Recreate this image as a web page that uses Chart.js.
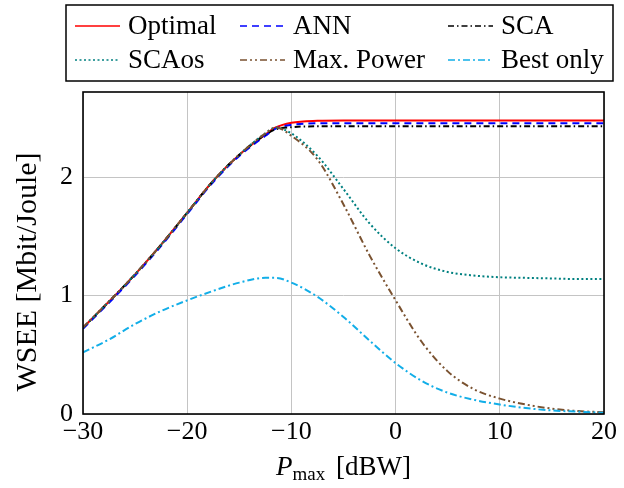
<!DOCTYPE html>
<html>
<head>
<meta charset="utf-8">
<script src="https://cdn.jsdelivr.net/npm/chart.js@4/dist/chart.umd.min.js"></script>
<style>
  html, body { margin: 0; padding: 0; background: #fff; }
</style>
</head>
<body>
<canvas id="wsee" width="624" height="488"></canvas>
<script>
// P_max in dBW
const pmax = [-30, -27.5, -25, -22.5, -20, -17.5, -15, -12.5, -11.5, -10, -7.5, -5, -2.5, 0, 2.5, 5, 7.5, 10, 12.5, 15, 17.5, 20];

// WSEE [Mbit/Joule] for each method
const optimal  = [0.73, 0.95, 1.18, 1.43, 1.70, 1.97, 2.19, 2.36, 2.42, 2.46, 2.477, 2.48, 2.48, 2.48, 2.48, 2.48, 2.48, 2.48, 2.48, 2.48, 2.48, 2.48];
const ann      = [0.72, 0.94, 1.17, 1.42, 1.69, 1.96, 2.18, 2.35, 2.41, 2.443, 2.455, 2.455, 2.455, 2.455, 2.455, 2.455, 2.455, 2.455, 2.455, 2.455, 2.455, 2.455];
const sca      = [0.73, 0.95, 1.18, 1.43, 1.70, 1.97, 2.19, 2.36, 2.405, 2.423, 2.43, 2.43, 2.43, 2.43, 2.43, 2.43, 2.43, 2.43, 2.43, 2.43, 2.43, 2.43];
const scaos    = [0.73, 0.95, 1.18, 1.43, 1.70, 1.97, 2.19, 2.37, 2.42, 2.37, 2.18, 1.90, 1.61, 1.40, 1.27, 1.20, 1.17, 1.155, 1.15, 1.145, 1.14, 1.14];
const maxPower = [0.73, 0.95, 1.18, 1.43, 1.70, 1.97, 2.19, 2.37, 2.42, 2.35, 2.15, 1.77, 1.34, 0.96, 0.61, 0.36, 0.21, 0.13, 0.08, 0.045, 0.025, 0.015];
const bestOnly = [0.52, 0.63, 0.76, 0.87, 0.96, 1.04, 1.11, 1.15, 1.15, 1.11, 0.99, 0.82, 0.62, 0.43, 0.28, 0.18, 0.12, 0.08, 0.05, 0.03, 0.02, 0.01];

const xTicks = [-30, -20, -10, 0, 10, 20];
const yTicks = [0, 1, 2];

const SERIF = '"Liberation Serif", "Times New Roman", serif';

function pts(ys) {
  return pmax.map((x, i) => ({ x: x, y: ys[i] }));
}

function series(label, ys, color, dash, order) {
  return {
    label: label,
    data: pts(ys),
    borderColor: color,
    backgroundColor: color,
    borderDash: dash,
    borderWidth: 2,
    pointRadius: 0,
    fill: false,
    cubicInterpolationMode: 'monotone',
    order: order
  };
}

function minus(v) {
  return v < 0 ? '\u2212' + Math.abs(v) : String(v);
}

// frame, legend box and axis titles
const decorations = {
  id: 'decorations',
  afterDraw(chart) {
    const ctx = chart.ctx;
    const a = chart.chartArea;
    ctx.save();

    ctx.strokeStyle = '#000';
    ctx.lineWidth = 1.6;
    ctx.setLineDash([]);
    ctx.strokeRect(a.left, a.top, a.right - a.left, a.bottom - a.top);

    // legend
    ctx.lineWidth = 1.5;
    ctx.strokeRect(66, 5, 547, 76);
    const cols = [75, 240, 448];
    const rows = [26, 60];
    ctx.font = '27px ' + SERIF;
    ctx.textBaseline = 'middle';
    ctx.fillStyle = '#000';
    chart.data.datasets.forEach((ds, i) => {
      const x = cols[i % 3];
      const y = rows[Math.floor(i / 3)];
      ctx.strokeStyle = ds.borderColor;
      ctx.lineWidth = 1.6;
      ctx.setLineDash(ds.borderDash);
      ctx.beginPath();
      ctx.moveTo(x, y);
      ctx.lineTo(x + 45, y);
      ctx.stroke();
      ctx.setLineDash([]);
      ctx.fillText(ds.label, x + 53, y + 1);
    });

    // x title: P_max [dBW]
    ctx.textBaseline = 'alphabetic';
    ctx.textAlign = 'left';
    const big = '27px ' + SERIF;
    const italic = 'italic 27px ' + SERIF;
    const small = '19px ' + SERIF;
    ctx.font = italic; const wP = ctx.measureText('P').width;
    ctx.font = small; const wSub = ctx.measureText('max').width;
    ctx.font = big; const wRest = ctx.measureText(' [dBW]').width;
    const x0 = (a.left + a.right) / 2 - (wP + wSub + wRest + 4) / 2;
    const base = 475;
    ctx.font = italic; ctx.fillText('P', x0, base);
    ctx.font = small; ctx.fillText('max', x0 + wP, base + 5);
    ctx.font = big; ctx.fillText(' [dBW]', x0 + wP + wSub + 4, base);

    // y title
    ctx.translate(28, 272);
    ctx.rotate(-Math.PI / 2);
    ctx.textAlign = 'center';
    ctx.textBaseline = 'middle';
    ctx.font = '30px ' + SERIF;
    ctx.fillText('WSEE [Mbit/Joule]', 0, 0);

    ctx.restore();
  }
};

new Chart(document.getElementById('wsee'), {
  type: 'line',
  data: {
    datasets: [
      series('Optimal', optimal, '#ff0000', [], 6),
      series('ANN', ann, '#0000ff', [7, 5], 5),
      series('SCA', sca, '#000000', [6, 3, 1.5, 3], 4),
      series('SCAos', scaos, '#008080', [2, 2.5], 3),
      series('Max. Power', maxPower, '#7a5230', [7, 3, 2, 3, 2, 3], 2),
      series('Best only', bestOnly, '#12aee8', [7, 3, 2, 3], 1)
    ]
  },
  options: {
    responsive: false,
    animation: false,
    layout: { padding: { top: 92, right: 20, bottom: 0, left: 0 } },
    plugins: {
      legend: { display: false },
      tooltip: { enabled: false }
    },
    scales: {
      x: {
        type: 'linear',
        min: -30,
        max: 20,
        afterBuildTicks: s => { s.ticks = xTicks.map(v => ({ value: v })); },
        afterFit: s => { s.height = 74; },
        ticks: {
          callback: v => minus(v),
          color: '#000',
          font: { family: SERIF, size: 26 },
          padding: 3,
          maxRotation: 0
        },
        grid: { color: '#c4c4c4', lineWidth: 1, drawTicks: false },
        border: { display: false }
      },
      y: {
        min: 0,
        max: 2.72,
        afterBuildTicks: s => { s.ticks = yTicks.map(v => ({ value: v })); },
        afterFit: s => { s.width = 83; },
        ticks: {
          callback: v => minus(v),
          color: '#000',
          font: { family: SERIF, size: 26 },
          padding: 10
        },
        grid: { color: '#c4c4c4', lineWidth: 1, drawTicks: false },
        border: { display: false }
      }
    }
  },
  plugins: [decorations]
});
</script>
</body>
</html>
